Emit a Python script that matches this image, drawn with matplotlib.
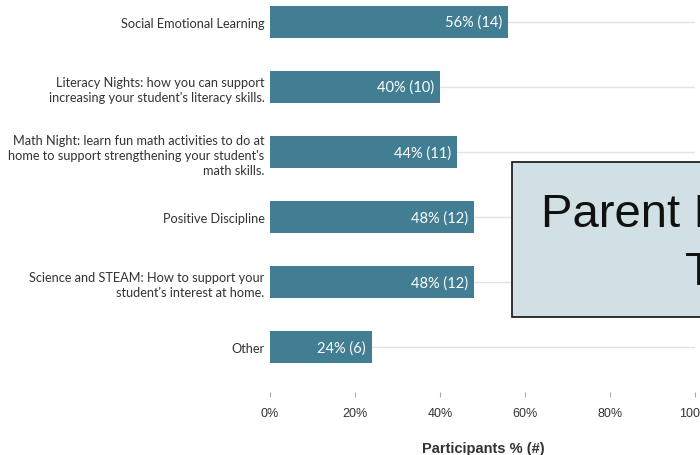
"""Parent involvement topics - horizontal bar chart"""

import matplotlib
matplotlib.use("Agg")
from matplotlib import pyplot as plt
from matplotlib.patches import Rectangle
from matplotlib.ticker import FuncFormatter

# data
topics = [
    "Social Emotional Learning",
    "Literacy Nights: how you can support\nincreasing your student's literacy skills.",
    "Math Night: learn fun math activities to do at\nhome to support strengthening your student's\nmath skills.",
    "Positive Discipline",
    "Science and STEAM: How to support your\nstudent's interest at home.",
    "Other",
]
percents = [56, 40, 44, 48, 48, 24]
counts = [14, 10, 11, 12, 12, 6]
x_ticks = [0, 20, 40, 60, 80, 100]

W, H = 700, 456
BAR_COLOR = "#417e94"
TEXT_COLOR = "#333333"


def fx(px):
    return px / W


def fy(py):
    return 1 - py / H


fig = plt.figure(figsize=(W / 100, H / 100), dpi=100)
ax = fig.add_axes([fx(270), fy(393), fx(695) - fx(270), fy(0) - fy(393)])

pos = list(range(len(topics)))
ax.barh(pos, percents, height=0.49, color=BAR_COLOR, zorder=2)
for p in pos:
    ax.axhline(p, color="#e3e3e3", lw=1, zorder=1)

for p, pct, n in zip(pos, percents, counts):
    ax.text(pct - 1.4, p, f"{pct}% ({n})", ha="right", va="center",
            color="white", fontsize=10.5, family="Lato", zorder=3)

ax.set_xlim(0, 100)
ax.set_ylim(5.69, -0.354)
ax.set_yticks(pos)
ax.set_yticklabels(topics, family="Lato", fontsize=9.2, color=TEXT_COLOR,
                   linespacing=1.3)
ax.tick_params(axis="y", length=0, pad=4)
ax.set_xticks(x_ticks)
ax.xaxis.set_major_formatter(FuncFormatter(lambda v, _: f"{v:.0f}%"))
ax.tick_params(axis="x", direction="out", length=3.6, width=0.8,
               color="#aaaaaa", labelcolor=TEXT_COLOR, labelsize=9, pad=7)
for lbl in ax.get_xticklabels():
    lbl.set_family("Liberation Sans")

for s in ax.spines.values():
    s.set_visible(False)

fig.text(fx(483), fy(449), "Participants % (#)", ha="center", va="center",
         fontsize=10.5, fontweight="bold", color=TEXT_COLOR,
         family="Liberation Sans")

# title box overlay, cut off at the right edge
fig.patches.append(Rectangle((fx(512), fy(318)), fx(230), fy(163) - fy(318),
                             transform=fig.transFigure, facecolor="#d0e0e4",
                             edgecolor="#111111", lw=1.2, zorder=5))
fig.text(fx(541), fy(227), "Parent Involvement", ha="left", va="baseline",
         fontsize=34, family="Liberation Sans", color="#111111", zorder=6)
fig.text(fx(685), fy(285), "Topics", ha="left", va="baseline",
         fontsize=34, family="Liberation Sans", color="#111111", zorder=6)

fig.savefig("out.png", dpi=100)
